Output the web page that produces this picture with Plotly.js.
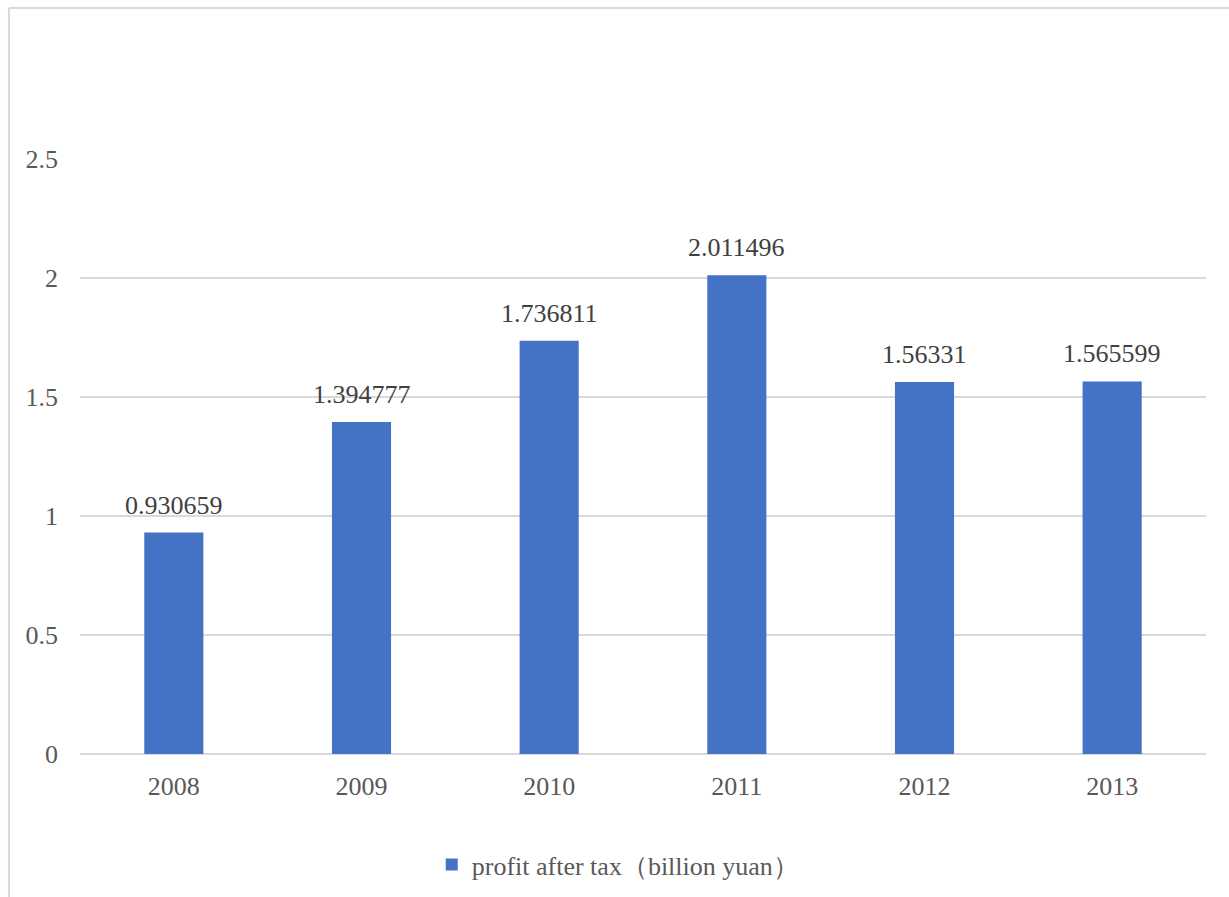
<!DOCTYPE html>
<html>
<head>
<meta charset="utf-8">
<script src="https://cdn.plot.ly/plotly-3.0.1.min.js"></script>
<style>html,body{margin:0;padding:0;background:#fff;}#chart{width:1229px;height:897px;}</style>
</head>
<body>
<div id="chart"></div>
<script>
const years = ["2008", "2009", "2010", "2011", "2012", "2013"];
const profitAfterTax = [0.930659, 1.394777, 1.736811, 2.011496, 1.56331, 1.565599];
const valueLabels = ["0.930659", "1.394777", "1.736811", "2.011496", "1.56331", "1.565599"];
const seriesName = "profit after tax（billion yuan）";
const yTicks = [0, 0.5, 1, 1.5, 2, 2.5];
const yTickLabels = ["0", "0.5", "1", "1.5", "2", "2.5"];

const serif = "'Liberation Serif', 'Times New Roman', Times, serif";

const trace = {
  type: "bar",
  x: years,
  y: profitAfterTax,
  name: seriesName,
  marker: {color: "#4472C4"},
  cliponaxis: false,
  hoverinfo: "skip",
  showlegend: true
};

const labelAnnotations = years.map((yr, i) => ({
  x: i,
  y: profitAfterTax[i],
  xref: "x",
  yref: "y",
  text: valueLabels[i],
  showarrow: false,
  xanchor: "center",
  yanchor: "bottom",
  yshift: 11,
  font: {family: serif, size: 26, color: "#404040"}
}));

const layout = {
  width: 1229,
  height: 897,
  margin: {l: 80, r: 23, t: 159, b: 143, autoexpand: false},
  paper_bgcolor: "#ffffff",
  plot_bgcolor: "#ffffff",
  bargap: 0.685,
  font: {family: serif, size: 26, color: "#595959"},
  xaxis: {
    type: "category",
    categoryorder: "array",
    categoryarray: years,
    range: [-0.5, years.length - 0.5],
    showgrid: false,
    showline: false,
    zeroline: false,
    ticks: "",
    automargin: false,
    ticklabelstandoff: 14,
    tickfont: {family: serif, size: 26, color: "#595959"}
  },
  yaxis: {
    range: [0, 2.5],
    tickvals: yTicks,
    ticktext: yTickLabels,
    showgrid: true,
    gridcolor: "#d9d9d9",
    gridwidth: 2,
    zeroline: true,
    zerolinecolor: "#d9d9d9",
    zerolinewidth: 2,
    showline: false,
    ticks: "",
    automargin: false,
    ticklabelstandoff: 21,
    tickfont: {family: serif, size: 26, color: "#595959"}
  },
  showlegend: true,
  legend: {
    orientation: "h",
    x: 0.478,
    xanchor: "center",
    y: -0.186,
    yanchor: "middle",
    font: {family: serif, size: 26, color: "#595959"},
    itemwidth: 30
  },
  annotations: labelAnnotations,
  shapes: [
    {type: "line", xref: "paper", yref: "paper", x0: -0.0631, x1: 1.03, y0: 1.2538, y1: 1.2538, line: {color: "#d9d9d9", width: 2}},
    {type: "line", xref: "paper", yref: "paper", x0: -0.0631, x1: -0.0631, y0: 1.2538, y1: -0.26, line: {color: "#d9d9d9", width: 2}}
  ]
};

Plotly.newPlot("chart", [trace], layout, {displayModeBar: false, staticPlot: true});
</script>
</body>
</html>
